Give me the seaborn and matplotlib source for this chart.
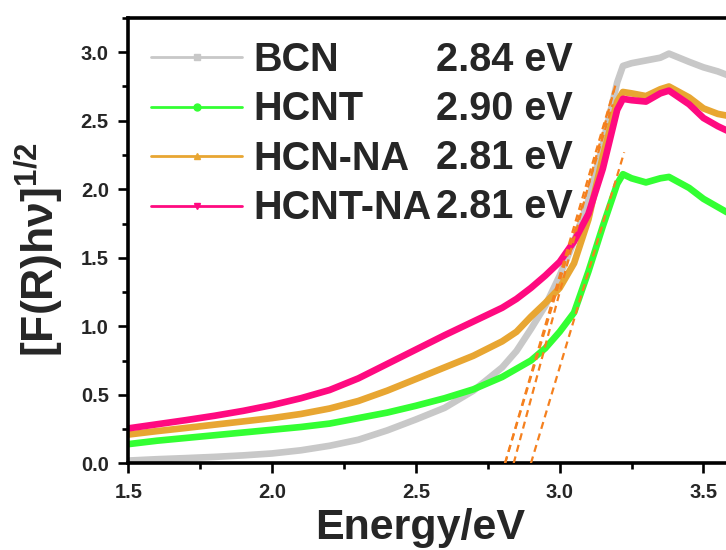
import matplotlib
matplotlib.use("Agg")
import matplotlib.pyplot as plt
from matplotlib.lines import Line2D
from matplotlib.ticker import MultipleLocator, FormatStrFormatter
import pandas as pd
import seaborn as sns

# Kubelka-Munk transformed reflectance vs photon energy
energy = [1.50, 1.60, 1.70, 1.80, 1.90, 2.00, 2.10, 2.20, 2.30, 2.40, 2.50,
          2.60, 2.70, 2.80, 2.85, 2.90, 2.95, 3.00, 3.05, 3.10, 3.15, 3.20,
          3.22, 3.25, 3.30, 3.35, 3.38, 3.45, 3.50, 3.55, 3.60]
bcn = [0.02, 0.03, 0.038, 0.047, 0.058, 0.072, 0.095, 0.128, 0.172, 0.24, 0.32,
       0.405, 0.53, 0.70, 0.82, 0.98, 1.15, 1.37, 1.62, 1.92, 2.33, 2.78,
       2.90, 2.92, 2.94, 2.96, 2.99, 2.93, 2.89, 2.86, 2.82]
hcnt = [0.14, 0.165, 0.185, 0.205, 0.225, 0.245, 0.265, 0.29, 0.33, 0.37, 0.42,
        0.475, 0.54, 0.63, 0.69, 0.75, 0.84, 0.96, 1.10, 1.40, 1.73, 2.04,
        2.11, 2.08, 2.05, 2.08, 2.09, 2.01, 1.93, 1.87, 1.81]
hcn_na = [0.21, 0.235, 0.258, 0.282, 0.306, 0.33, 0.36, 0.40, 0.455, 0.53, 0.615,
          0.70, 0.785, 0.89, 0.96, 1.07, 1.17, 1.28, 1.46, 1.78, 2.24, 2.64,
          2.71, 2.70, 2.68, 2.73, 2.75, 2.67, 2.59, 2.55, 2.53]
hcnt_na = [0.255, 0.285, 0.315, 0.347, 0.383, 0.425, 0.475, 0.535, 0.62, 0.725, 0.83,
           0.935, 1.035, 1.135, 1.20, 1.28, 1.37, 1.47, 1.62, 1.82, 2.15, 2.58,
           2.66, 2.65, 2.64, 2.70, 2.72, 2.62, 2.52, 2.46, 2.41]

samples = ["BCN", "HCNT", "HCN-NA", "HCNT-NA"]
band_gap = [2.84, 2.90, 2.81, 2.81]        # eV, x-intercept of the edge tangent
edge_slope = [7.8, 7.0, 7.2, 7.0]          # slope of the tangent line
edge_top = [2.78, 2.27, 2.72, 2.62]        # height where the tangent stops

colors = ["#c8c8c8", "#33ff33", "#e8a632", "#ff0a80"]
markers = ["s", "o", "^", "v"]

series = [bcn, hcnt, hcn_na, hcnt_na]
df = pd.concat(
    [pd.DataFrame({"Energy": energy, "Value": vals, "Sample": name})
     for name, vals in zip(samples, series)],
    ignore_index=True,
)

sns.set_theme(style="ticks")
plt.rcParams["font.family"] = ["Liberation Sans", "DejaVu Sans"]
plt.rcParams["font.weight"] = "bold"
plt.rcParams["mathtext.fontset"] = "custom"
plt.rcParams["mathtext.rm"] = "Liberation Sans:bold"
plt.rcParams["mathtext.it"] = "Liberation Sans:bold"
plt.rcParams["mathtext.bf"] = "Liberation Sans:bold"
plt.rcParams["mathtext.default"] = "rm"

fig = plt.figure(figsize=(7.26, 5.5), dpi=100)
ax = fig.add_axes([0.1767, 0.1576, 0.8715, 0.8097])

sns.lineplot(data=df, x="Energy", y="Value", hue="Sample", hue_order=samples,
             palette=colors, estimator=None, linewidth=4.8, legend=False, ax=ax)

# tangent lines at the absorption edge
for e0, k, top in zip(band_gap, edge_slope, edge_top):
    ax.plot([e0, e0 + top / k], [0, top], color="#f5801e", lw=1.6,
            ls=(0, (3.2, 2.2)), zorder=5)

ax.set_xlim(1.5, 3.7)
ax.set_ylim(0, 3.25)
ax.xaxis.set_major_locator(MultipleLocator(0.5))
ax.xaxis.set_minor_locator(MultipleLocator(0.25))
ax.yaxis.set_major_locator(MultipleLocator(0.5))
ax.yaxis.set_minor_locator(MultipleLocator(0.25))
ax.xaxis.set_major_formatter(FormatStrFormatter("%.1f"))
ax.yaxis.set_major_formatter(FormatStrFormatter("%.1f"))

for side in ["left", "bottom", "top", "right"]:
    ax.spines[side].set_linewidth(2.6)
    ax.spines[side].set_color("black")
ax.tick_params(which="major", direction="out", length=7.5, width=1.9,
               labelsize=14.5, pad=6.5, color="black", top=False, right=False)
ax.tick_params(which="minor", direction="out", length=4, width=1.9,
               top=False, right=False, color="black")
for lab in ax.get_xticklabels() + ax.get_yticklabels():
    lab.set_fontweight("bold")

ax.set_xlabel("Energy/eV", fontsize=31, fontweight="bold")
ax.set_ylabel(r"[F(R)hν]$^{1/2}$", fontsize=32, fontweight="bold")
ax.xaxis.set_label_coords(0.461, -0.100)
ax.yaxis.set_label_coords(-0.099, 0.48)

handles = [Line2D([], [], color=c, lw=2, marker=m, markersize=5)
           for c, m in zip(colors, markers)]
leg = ax.legend(handles, samples, loc="upper left",
                bbox_to_anchor=(151 / 726, 1 - 41 / 550),
                bbox_transform=fig.transFigure, frameon=False,
                prop={"weight": "bold", "size": 28.5}, handlelength=2.3,
                handletextpad=0.28, labelspacing=0.29, borderpad=0,
                borderaxespad=0)

for i, e0 in enumerate(band_gap):
    fig.text(573 / 726, 1 - (71 + 49 * i) / 550, f"{e0:.2f} eV",
             ha="right", va="baseline", fontsize=28.5, fontweight="bold")

fig.savefig("out.png", dpi=100)
